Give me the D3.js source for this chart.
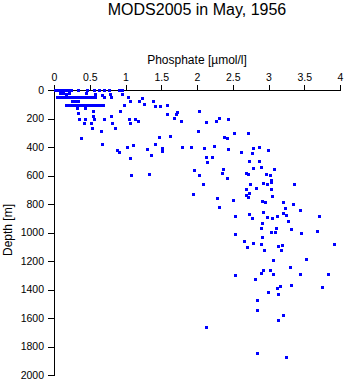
<!DOCTYPE html>
<html><head><meta charset="utf-8">
<script src="https://cdn.jsdelivr.net/npm/d3@7"></script>
<style>
body{margin:0;background:#fff;}
text{font-family:"Liberation Sans",Arial,Helvetica,sans-serif;fill:#000;}
</style></head>
<body><svg id="c" width="345" height="384"></svg>
<script>
const title = "MODS2005 in May, 1956";
const xLabel = "Phosphate [\u00b5mol/l]";
const yLabel = "Depth [m]";
const xTicks = [0,0.5,1,1.5,2,2.5,3,3.5,4];
const yTicks = [0,200,400,600,800,1000,1200,1400,1600,1800,2000];

const phosphate = [
 .01,.04,.07,.10,.13,.15,.18,.21,.24,.34,.46,.56,.63,.70,.77,.91,.95,
 .08,.13,.21,.45,.17,.57,.78,.95,.67,
 .04,.08,.13,.17,.21,.25,.29,.34,.38,.42,.46,.50,.53,.70,.80,1.04,.57,
 .25,.29,.34,1.06,
 .17,.20,.24,.28,.32,.36,.41,.45,.49,.53,.57,.62,.66,.69,.98,
 .32,.43,.55,.92,.34,.55,.80,.35,.43,.56,.70,1.05,.42,.52,.81,1.06,.53,.85,.66,.38,.67,.88,.91,1.02,
 1.23,1.19,1.26,1.38,1.41,1.48,1.58,1.72,1.71,1.58,2.03,1.68,1.78,1.13,1.17,2.13,2.27,2.31,2.43,2.01,
 1.47,1.62,2.38,2.42,1.10,1.30,1.41,1.51,1.51,1.79,1.92,2.10,2.24,2.43,1.36,2.13,2.21,2.14,1.06,1.96,
 2.36,2.35,1.08,1.33,2.03,2.42,
 2.52,2.71,2.62,2.78,2.87,2.99,2.77,2.73,2.87,2.79,2.90,3.08,2.69,2.71,2.97,3.02,3.04,
 2.08,1.94,2.28,2.31,2.50,2.69,2.74,2.73,2.69,2.71,2.53,2.73,2.53,2.66,2.70,2.53,
 2.83,2.92,2.98,3.04,3.04,3.05,3.36,2.91,2.95,3.20,3.34,3.23,3.44,2.92,3.20,3.25,3.12,2.77,2.98,3.05,
 3.27,3.71,2.91,2.90,3.11,3.04,3.09,3.32,3.46,3.68,2.91,2.78,2.90,3.13,3.19,2.94,3.18,3.92,3.06,3.52,
 3.30,2.92,3.02,2.90,3.06,3.44,3.83,2.81,
 2.99,3.12,3.16,3.31,3.75,3.13,2.84,2.84,3.20,3.13,2.13,2.84,3.24
];
const depth = [
 0,0,0,0,0,0,0,0,0,0,0,0,0,0,0,0,0,
 21,21,21,21,28,28,28,28,35,
 52,52,52,52,52,52,52,52,52,52,52,52,52,52,52,52,49,
 77,77,77,77,
 102,102,102,102,102,102,102,102,102,102,102,102,102,102,102,
 126,126,147,147,161,182,182,204,204,204,204,204,232,232,232,232,267,267,288,337,379,421,435,400,
 56,77,98,77,112,112,105,154,168,168,147,196,218,204,218,225,218,196,204,288,
 330,323,330,337,386,414,379,407,428,400,400,407,393,414,456,470,470,505,477,561,
 554,582,596,589,596,618,
 302,302,435,407,400,421,442,498,498,550,540,554,582,589,589,596,632,
 660,730,758,821,772,695,660,723,737,751,884,870,1011,1060,1102,1298,
 688,653,660,646,695,744,660,779,786,786,800,828,842,856,863,877,884,898,891,898,
 919,884,933,968,968,996,996,975,1004,989,1032,1074,1081,1095,1088,1123,1123,1081,1193,1186,
 1242,1263,1263,1284,1291,1291,1291,1326,
 1418,1389,1375,1368,1382,1432,1474,1544,1579,1614,1663,1846,1874
];

const svg = d3.select("#c");
const x = d3.scaleLinear().domain([0,4]).range([54,340]);
const y = d3.scaleLinear().domain([0,2000]).range([90,375]);

svg.append("text").attr("x",197).attr("y",15).attr("text-anchor","middle")
  .style("font-size","16px").text(title);
svg.append("text").attr("x",197).attr("y",64).attr("text-anchor","middle")
  .style("font-size","12px").text(xLabel);
svg.append("text").attr("transform","translate(12,230) rotate(-90)").attr("text-anchor","middle")
  .style("font-size","12px").text(yLabel);

const xa = svg.append("g").attr("transform","translate(0,90)")
  .call(d3.axisTop(x).tickValues(xTicks).tickSize(5).tickSizeOuter(0).tickPadding(4)
    .tickFormat(d=>String(d)));
const ya = svg.append("g").attr("transform","translate(54,0)")
  .call(d3.axisLeft(y).tickValues(yTicks).tickSize(6).tickSizeOuter(0).tickPadding(4)
    .tickFormat(d=>String(d)));
[xa,ya].forEach(g=>{
  g.selectAll("path,line").attr("stroke","#000").attr("stroke-width",1).attr("shape-rendering","crispEdges");
  g.selectAll("text").style("font-size","10.5px").style("font-family","'Liberation Sans',Arial,sans-serif").attr("fill","#000");
});

svg.append("g").selectAll("rect").data(phosphate.map((p,i)=>[p,depth[i]])).join("rect")
  .attr("x",d=>Math.round(x(d[0]))-1).attr("y",d=>Math.round(y(d[1]))-1)
  .attr("width",3).attr("height",3).attr("fill","#0000ff").attr("shape-rendering","crispEdges");
</script></body></html>
